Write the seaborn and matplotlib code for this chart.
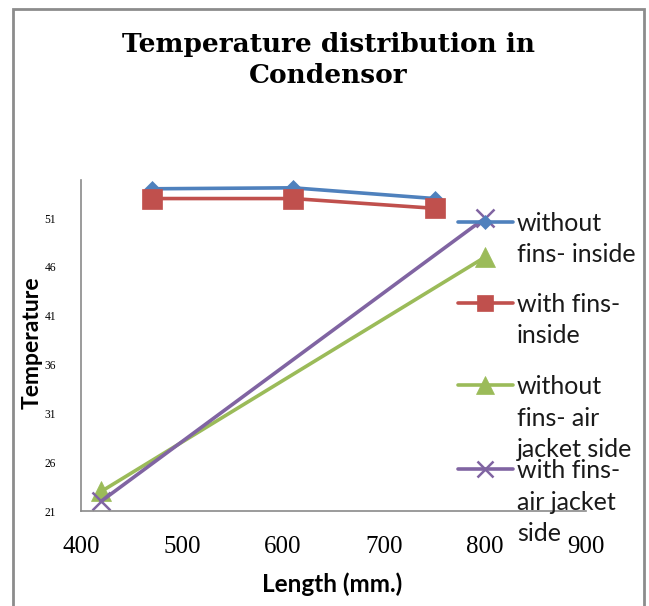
import matplotlib
matplotlib.use("Agg")
import matplotlib.pyplot as plt
from matplotlib.lines import Line2D
from matplotlib.patches import Rectangle
import seaborn as sns
import pandas as pd

# ---- data ----
series_names = ["without fins- inside", "with fins-inside",
                "without fins- air jacket side", "with fins- air jacket side"]
legend_lines = [["without", "fins- inside"], ["with fins-", "inside"],
                ["without", "fins- air", "jacket side"], ["with fins-", "air jacket", "side"]]
x_inside = [470, 610, 750]
y_without_inside = [54.0, 54.1, 53.0]
y_with_inside = [53.0, 53.0, 52.0]
x_jacket = [420, 800]
y_without_jacket = [23.0, 47.0]
y_with_jacket = [22.0, 51.0]
x_ticks = [400, 500, 600, 700, 800, 900]
y_ticks = [21, 26, 31, 36, 41, 46, 51]

colors = ["#4F81BD", "#C0504D", "#9BBB59", "#8064A2"]
markers = ["D", "s", "^", "x"]
msizes = [8.5, 14, 15, 13]

W, H = 649, 606
sns.set_theme(style="white")
fig = plt.figure(figsize=(W / 100, H / 100), dpi=100)
ax = fig.add_axes([81 / W, 1 - 511 / H, (586 - 81) / W, (511 - 180) / H])

series = [
    (x_inside, y_without_inside),
    (x_inside, y_with_inside),
    (x_jacket, y_without_jacket),
    (x_jacket, y_with_jacket),
]
for (xs, ys), c, m, ms, name in zip(series, colors, markers, msizes, series_names):
    df = pd.DataFrame({"Length": xs, "Temperature": ys})
    sns.lineplot(data=df, x="Length", y="Temperature", ax=ax, color=c, lw=2.6,
                 marker=m, markersize=ms, markeredgecolor=c,
                 markeredgewidth=1.8 if m == "x" else 0.5, legend=False,
                 estimator=None, sort=False)

ax.set_xlim(400, 900)
ax.set_ylim(21, 54.9)
ax.set_xticks(x_ticks)
ax.set_xticklabels([str(v) for v in x_ticks], family="Liberation Serif", fontsize=18)
ax.set_yticks(y_ticks)
ax.set_yticklabels([str(v) for v in y_ticks], family="Liberation Serif", fontsize=8.3)
ax.tick_params(axis="x", length=0, pad=18, colors="black")
ax.tick_params(axis="y", length=0, pad=18, colors="black")
ax.set_xlabel("")
ax.set_ylabel("")
for s in ["top", "right"]:
    ax.spines[s].set_visible(False)
for s in ["left", "bottom"]:
    ax.spines[s].set_color("#8a8a8a")
    ax.spines[s].set_linewidth(1.2)
ax.grid(False)
ax.patch.set_alpha(0)

def fx(px):
    return px / W

def fy(py):
    return 1 - py / H

# title
fig.text(fx(328), fy(52), "Temperature distribution in", family="DejaVu Serif",
         fontweight="bold", fontsize=19, ha="center", va="baseline", color="black")
fig.text(fx(328), fy(83), "Condensor", family="DejaVu Serif",
         fontweight="bold", fontsize=19, ha="center", va="baseline", color="black")

# axis titles
fig.text(fx(32), fy(343), "Temperature", family="Lato", fontweight="bold",
         fontsize=16.5, rotation=90, ha="center", va="center", color="black")
fig.text(fx(332), fy(584), "Length (mm.)", family="Lato", fontweight="bold",
         fontsize=17.5, ha="center", va="center", color="black")

# legend (manual, first text line aligned with key)
key_y = [222, 303, 385, 469]
for c, m, ms, ky, lines in zip(colors, markers, msizes, key_y, legend_lines):
    fig.add_artist(Line2D([fx(458), fx(485), fx(513)], [fy(ky)] * 3,
                          transform=fig.transFigure, color=c, lw=2.6,
                          marker=m, markersize=ms * 0.85, markevery=[1],
                          markeredgecolor=c, markeredgewidth=1.8 if m == "x" else 0.5))
    for i, t in enumerate(lines):
        fig.text(fx(517), fy(ky + 9 + 31.5 * i), t, family="Lato", fontsize=18,
                 ha="left", va="baseline", color="#1a1a1a")

# chart border
fig.add_artist(Rectangle((fx(13), fy(640)), fx(644) - fx(13), fy(9) - fy(640),
                         transform=fig.transFigure, fill=False,
                         edgecolor="#8c8c8c", lw=2))

fig.savefig("out.png", dpi=100)
